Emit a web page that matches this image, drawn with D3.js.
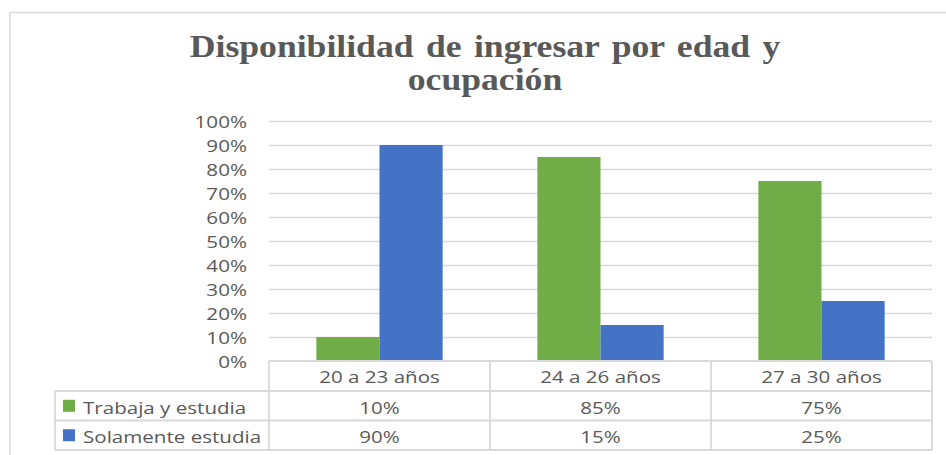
<!DOCTYPE html>
<html>
<head>
<meta charset="utf-8">
<script src="https://cdn.jsdelivr.net/npm/d3@7"></script>
<style>
  html, body { margin: 0; padding: 0; background: #fff; }
  svg { display: block; }
</style>
</head>
<body>
<div id="chart"></div>
<script>
// Chart data
const categories = ['20 a 23 años', '24 a 26 años', '27 a 30 años'];
const seriesNames = ['Trabaja y estudia', 'Solamente estudia'];
const trabajaValues = [10, 85, 75];
const soloValues = [90, 15, 25];
const yTicks = [0, 10, 20, 30, 40, 50, 60, 70, 80, 90, 100];
const titleLines = ['Disponibilidad de ingresar por edad y', 'ocupación'];

const colors = ['#70AD47', '#4472C4'];
const textColor = '#595959';
const lineColor = '#d9d9d9';

const width = 946;
const height = 455;
const plot = { left: 269, right: 932, top: 121, bottom: 361 };
const table = { left: 55, rowH: [30, 29.5, 29.5] };

const svg = d3.select('#chart')
  .append('svg')
  .attr('width', width)
  .attr('height', height);

// chart border (cropped on the right and bottom)
svg.append('path')
  .attr('d', `M${width},12.5 H10 V${height}`)
  .attr('fill', 'none')
  .attr('stroke', lineColor)
  .attr('stroke-width', 1.5);

// text in the original is stretched sideways a bit
function stretched(sel, x, y, sx) {
  return sel.attr('transform', `translate(${x},${y}) scale(${sx},1)`);
}

// Title
titleLines.forEach((line, i) => {
  stretched(svg.append('text'), 485, 56.5 + i * 33.5, 1.15)
    .attr('text-anchor', 'middle')
    .attr('font-family', '"Liberation Serif", "Times New Roman", serif')
    .attr('font-weight', 'bold')
    .attr('font-size', 31)
    .attr('word-spacing', 3)
    .attr('fill', textColor)
    .text(line);
});

// Scales
const x = d3.scaleBand()
  .domain(categories)
  .range([plot.left, plot.right]);

const xInner = d3.scaleBand()
  .domain(seriesNames)
  .range([0, x.bandwidth()])
  .paddingOuter(0.75);

const y = d3.scaleLinear()
  .domain([0, 100])
  .range([plot.bottom, plot.top]);

// Gridlines
svg.append('g')
  .attr('transform', `translate(${plot.left},0)`)
  .call(d3.axisLeft(y).tickValues(yTicks.slice(1)).tickSize(-(plot.right - plot.left)).tickFormat(''))
  .call(g => g.select('.domain').remove())
  .call(g => g.selectAll('line').attr('stroke', lineColor).attr('stroke-width', 1.5));

// Y axis labels
const yAxis = svg.append('g')
  .attr('transform', `translate(${plot.left},0)`)
  .call(d3.axisLeft(y).tickValues(yTicks).tickSize(0).tickFormat(d => d + '%'));
yAxis.select('.domain').remove();
yAxis.selectAll('text')
  .attr('x', null)
  .attr('dy', null)
  .attr('transform', 'translate(-22,6) scale(1.29,1)')
  .attr('text-anchor', 'end')
  .attr('font-family', '"Open Sans", sans-serif')
  .attr('font-size', 16)
  .attr('fill', textColor);

// Bars
const seriesData = [trabajaValues, soloValues];
seriesNames.forEach((name, s) => {
  svg.append('g')
    .selectAll('rect')
    .data(categories)
    .enter().append('rect')
    .attr('x', d => x(d) + xInner(name))
    .attr('width', xInner.bandwidth())
    .attr('y', (d, i) => y(seriesData[s][i]))
    .attr('height', (d, i) => y(0) - y(seriesData[s][i]))
    .attr('fill', colors[s]);
});

// Data table
const tableG = svg.append('g');
const rowTop = [plot.bottom];
table.rowH.forEach((h, i) => rowTop.push(rowTop[i] + h));

const tableLine = (x1, y1, x2, y2) => tableG.append('line')
  .attr('x1', x1).attr('y1', y1).attr('x2', x2).attr('y2', y2)
  .attr('stroke', lineColor)
  .attr('stroke-width', 1.8);

// horizontal lines
tableLine(plot.left, rowTop[0], plot.right, rowTop[0]);
for (let r = 1; r < rowTop.length; r++) {
  tableLine(table.left, rowTop[r], plot.right, rowTop[r]);
}
// vertical lines
tableLine(table.left, rowTop[1], table.left, rowTop[3]);
categories.forEach(c => tableLine(x(c), rowTop[0], x(c), rowTop[3]));
tableLine(plot.right, rowTop[0], plot.right, rowTop[3]);

const cellText = (tx, ty, anchor, str) => stretched(tableG.append('text'), tx, ty, 1.21)
  .attr('text-anchor', anchor)
  .attr('font-family', '"Open Sans", sans-serif')
  .attr('font-size', 17)
  .attr('fill', textColor)
  .text(str);

// header: categories
categories.forEach(c => cellText(x(c) + x.bandwidth() / 2, rowTop[0] + 21.5, 'middle', c));

// series rows
seriesNames.forEach((name, s) => {
  const top = rowTop[s + 1];
  const h = table.rowH[s + 1];
  tableG.append('rect')
    .attr('x', 63)
    .attr('y', top + h / 2 - 6)
    .attr('width', 12)
    .attr('height', 12)
    .attr('fill', colors[s]);
  cellText(83, top + 22.5, 'start', name);
  categories.forEach((c, i) => {
    cellText(x(c) + x.bandwidth() / 2, top + 22.5, 'middle', seriesData[s][i] + '%');
  });
});
</script>
</body>
</html>
